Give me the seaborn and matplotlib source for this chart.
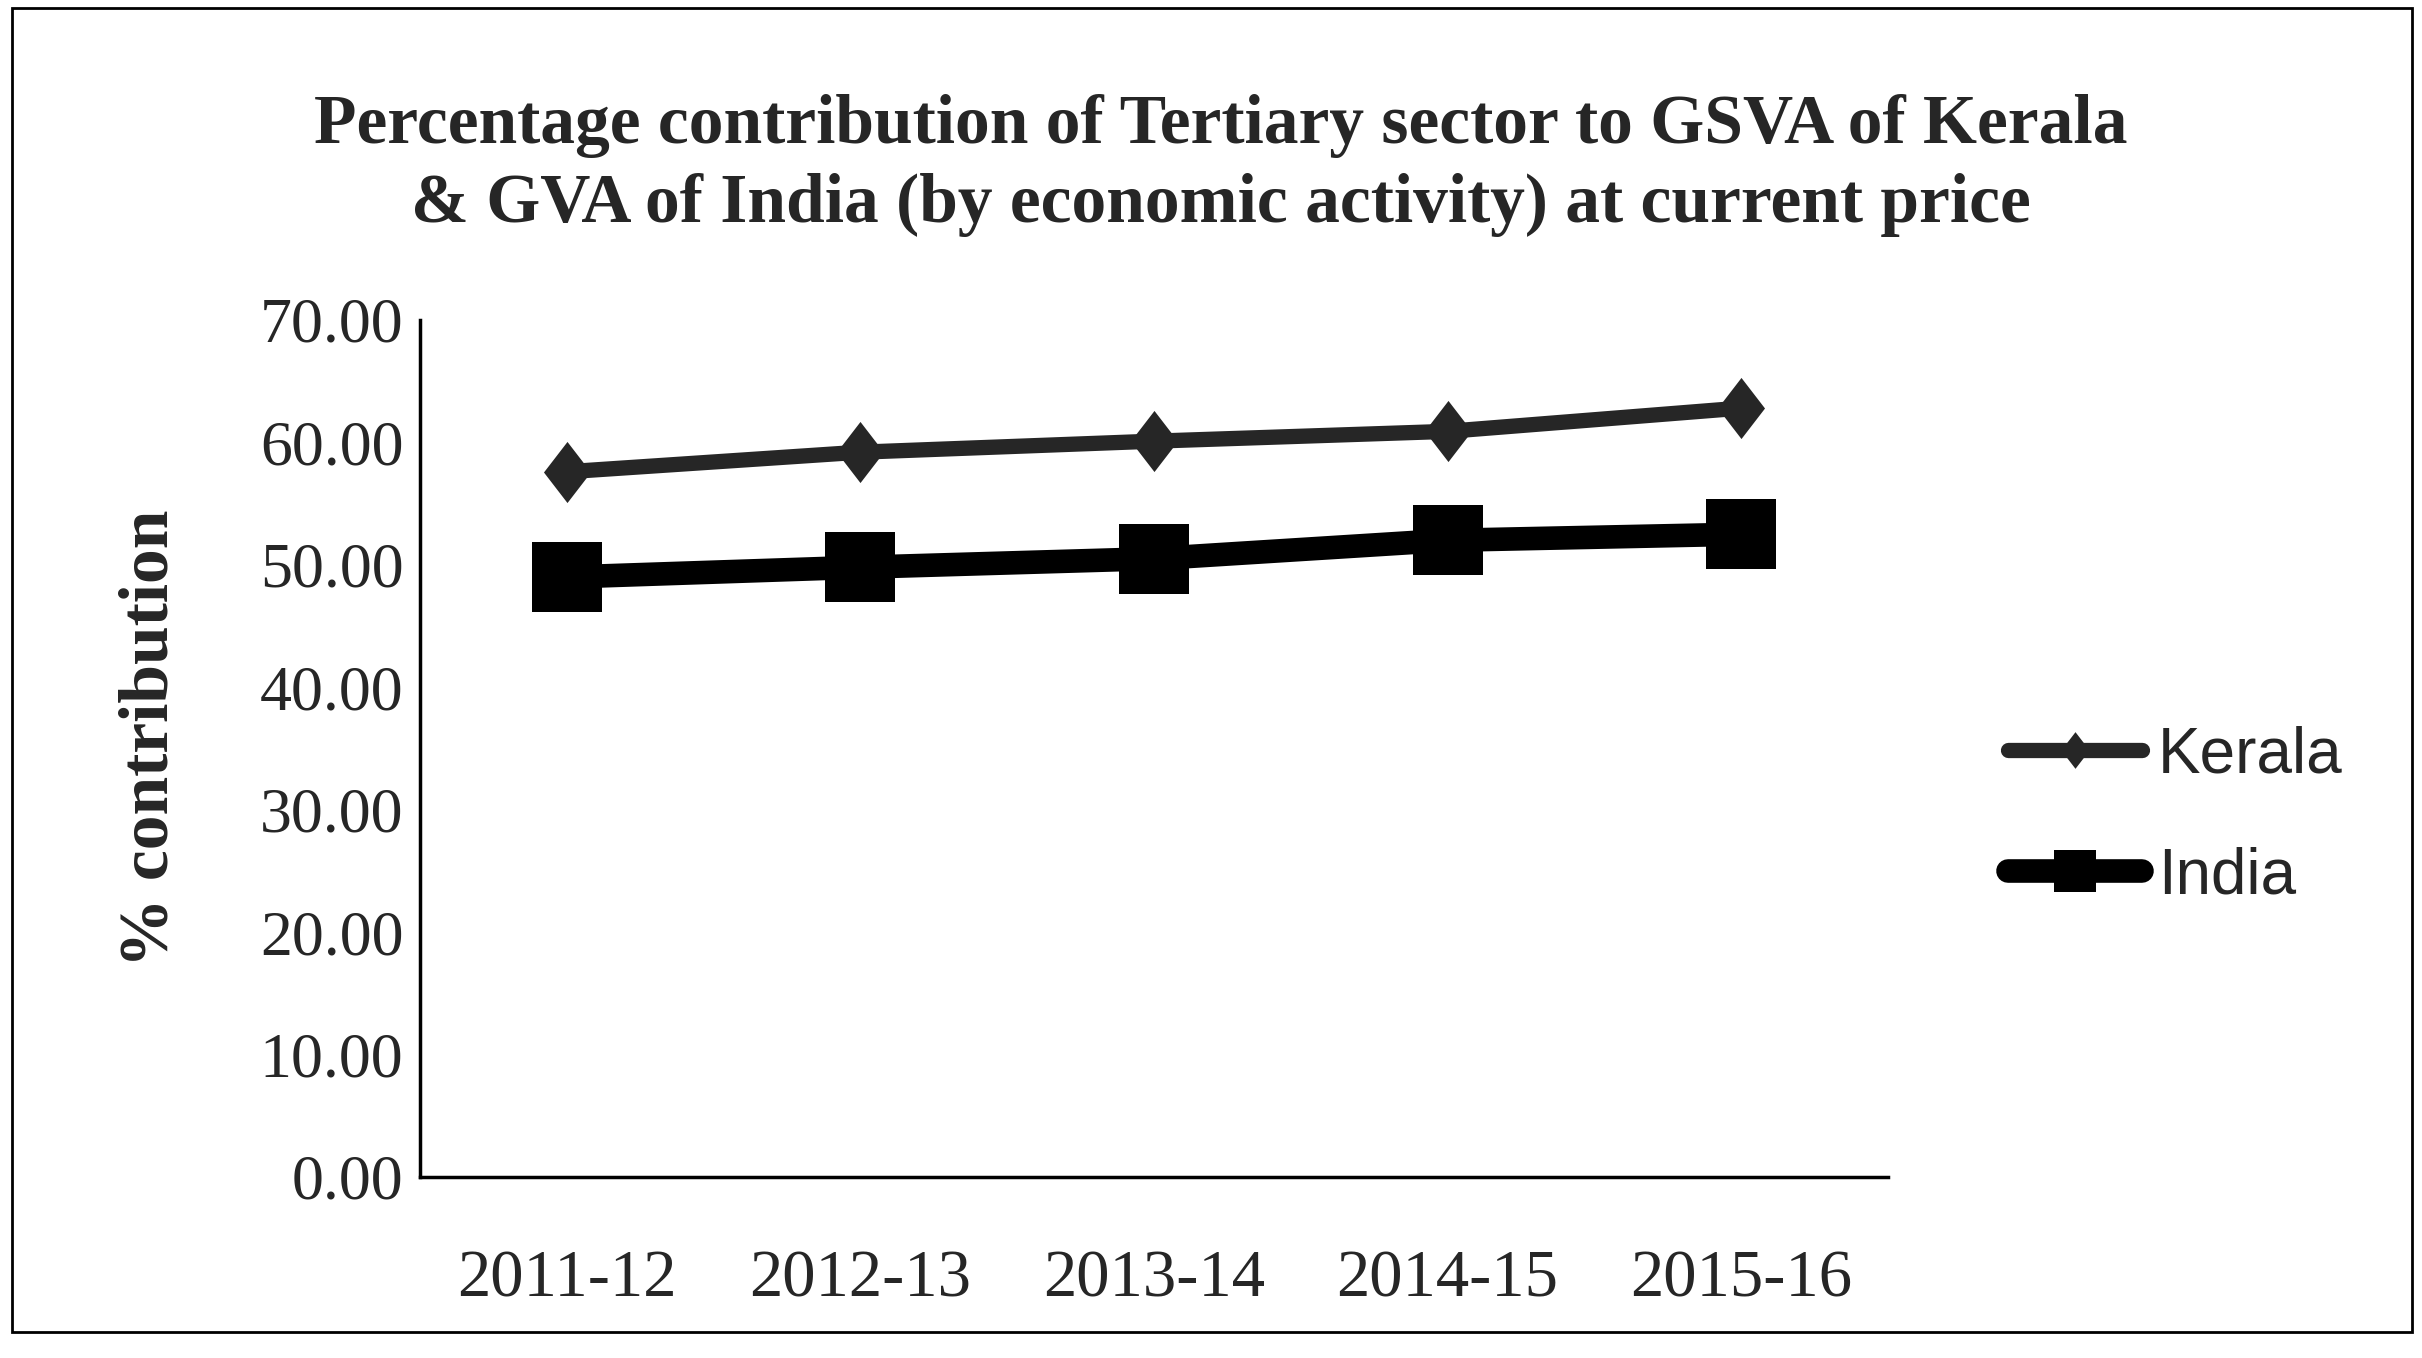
import matplotlib
matplotlib.use("Agg")
import matplotlib.pyplot as plt
from matplotlib.patches import Rectangle
import seaborn as sns
import pandas as pd

# Values
years = ["2011-12", "2012-13", "2013-14", "2014-15", "2015-16"]
kerala = [57.6, 59.2, 60.1, 60.9, 62.8]
india = [49.0, 49.8, 50.5, 52.0, 52.5]
y_ticks = [0, 10, 20, 30, 40, 50, 60, 70]

df = pd.DataFrame({
    "year": years * 2,
    "value": kerala + india,
    "state": ["Kerala"] * len(years) + ["India"] * len(years),
})

sns.set_theme(style="white")
plt.rcParams["font.family"] = ["Liberation Serif", "DejaVu Serif"]

fig = plt.figure(figsize=(24.22, 13.58), dpi=100)
ax = fig.add_axes([0.1734, 0.1333, 0.6061, 0.6311])

# tall diamond like the Excel marker
diamond = [(0, 1), (0.77, 0), (0, -1), (-0.77, 0), (0, 1)]

sns.lineplot(data=df[df.state == "Kerala"], x="year", y="value", ax=ax,
             color="#262626", linewidth=11, marker=diamond, markersize=44,
             markeredgewidth=0, label="Kerala")
sns.lineplot(data=df[df.state == "India"], x="year", y="value", ax=ax,
             color="black", linewidth=17, marker="s", markersize=50,
             markeredgewidth=0, label="India")

ax.set_xlim(-0.5, len(years) - 0.5)
ax.set_ylim(0, 70)
ax.set_yticks(y_ticks)
ax.set_yticklabels([f"{v:.2f}" for v in y_ticks])
ax.set_xlabel("")
ax.set_ylabel("% contribution", fontsize=50, fontweight="bold")
ax.yaxis.set_label_coords(-0.162, 0.512)
ax.tick_params(axis="y", labelsize=46, length=0, pad=12)
ax.tick_params(axis="x", labelsize=48, length=0, pad=52)

for s in ["top", "right"]:
    ax.spines[s].set_visible(False)
for s in ["left", "bottom"]:
    ax.spines[s].set_color("black")
    ax.spines[s].set_linewidth(2.5)

leg = ax.legend(loc="center left", bbox_to_anchor=(0.829, 0.399),
                bbox_transform=fig.transFigure, frameon=False,
                prop={"family": "Liberation Sans", "size": 46},
                handlelength=2.1, handletextpad=0.25, labelspacing=0.95,
                borderpad=0, borderaxespad=0, markerscale=0.6)

fig.text(0.504, 0.878,
         "Percentage contribution of Tertiary sector to GSVA of Kerala\n"
         "& GVA of India (by economic activity) at current price",
         ha="center", va="center", fontsize=50, fontweight="bold",
         linespacing=1.3)

fig.patches.append(Rectangle((0.005, 0.019), 0.991, 0.975, transform=fig.transFigure,
                             fill=False, edgecolor="black", linewidth=2))

fig.savefig("out.png", dpi=100)
